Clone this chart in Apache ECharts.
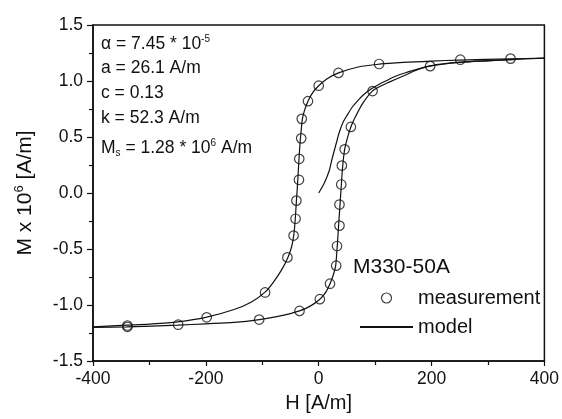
<!DOCTYPE html>
<html>
<head>
<meta charset="utf-8">
<script src="https://cdn.jsdelivr.net/npm/echarts@6/dist/echarts.min.js"></script>
<style>
  html, body { margin: 0; padding: 0; background: #fff; }
  #chart { width: 562px; height: 419px; }
</style>
</head>
<body>
<div id="chart"></div>
<script>
// measured points (H in A/m, M in 10^6 A/m)
var measH = [340, 251, 107, 35, 0, -19, -30, -31, -34.5, -35, -39.5, -41, -44.5, -55.5, -95, -198.5, -339,
             -339, -249, -105.5, -34, 2, 20, 31, 32.5, 36.8, 36.8, 40, 41, 46, 57, 95.5, 197.5]
var measM = [1.20, 1.19, 1.152, 1.072, 0.958, 0.82, 0.662, 0.488, 0.305, 0.118, -0.068, -0.23, -0.38, -0.575, -0.888, -1.11, -1.183,
             -1.195, -1.176, -1.13, -1.053, -0.948, -0.81, -0.649, -0.473, -0.291, -0.103, 0.076, 0.245, 0.39, 0.59, 0.91, 1.133]

// model: descending branch
var downH = [400, 340, 250, 200, 150, 107, 70, 35, 15, 0, -10, -19, -25, -29, -31, -33, -35, -37, -39.5, -41.5, -44, -48, -55, -65, -78, -95, -120, -150, -200, -250, -300, -340, -400]
var downM = [1.205, 1.198, 1.187, 1.178, 1.166, 1.15, 1.125, 1.072, 1.02, 0.958, 0.9, 0.82, 0.74, 0.66, 0.56, 0.45, 0.3, 0.12, -0.07, -0.23, -0.37, -0.48, -0.58, -0.68, -0.78, -0.885, -0.975, -1.04, -1.11, -1.15, -1.17, -1.18, -1.195]

// model: ascending branch
var upH = [-400, -340, -250, -200, -150, -105, -70, -34, -15, 2, 12, 20, 26, 30, 32.5, 34.5, 36.5, 38.5, 40.5, 42.5, 46, 52, 57, 65, 78, 95, 110, 125, 150, 175, 197, 250, 300, 340, 400]
var upM = [-1.2, -1.195, -1.18, -1.168, -1.155, -1.13, -1.1, -1.053, -1.01, -0.948, -0.89, -0.81, -0.73, -0.65, -0.5, -0.35, -0.2, -0.05, 0.1, 0.24, 0.39, 0.51, 0.59, 0.68, 0.8, 0.91, 0.955, 0.99, 1.045, 1.1, 1.133, 1.165, 1.18, 1.19, 1.205]

// model: initial magnetization curve
var initH = [0, 10, 18.5, 23, 27.4, 32, 36.2, 43, 51, 60, 68.6, 80, 92, 105, 118.6, 135, 154, 200, 250, 300, 350]
var initM = [0, 0.09, 0.196, 0.29, 0.375, 0.46, 0.538, 0.63, 0.7, 0.77, 0.821, 0.88, 0.926, 0.965, 1.0, 1.04, 1.074, 1.138, 1.168, 1.182, 1.192]

var xTicks = { min: -400, max: 400, interval: 200 }
var yTicks = { min: -1.5, max: 1.5, interval: 0.5 }

function pairs(xs, ys) {
  return xs.map(function (x, i) { return [x, ys[i]] })
}

var font = '"Liberation Sans", Arial, Helvetica, sans-serif'
var chart = echarts.init(document.getElementById('chart'))

var lineSeries = function (xs, ys) {
  return {
    name: 'model',
    type: 'line',
    data: pairs(xs, ys),
    symbol: 'none',
    smooth: 0.3,
    itemStyle: { color: '#111' },
    lineStyle: { color: '#111', width: 1.2 },
    z: 2
  }
}

var annoRich = {
  n: { fontSize: 17.5, fontFamily: font, color: '#111', lineHeight: 20 },
  sup: { fontSize: 10, fontFamily: font, color: '#111', lineHeight: 10, verticalAlign: 'top' },
  sub: { fontSize: 10, fontFamily: font, color: '#111', lineHeight: 6, verticalAlign: 'bottom' }
}

function anno(y, text) {
  return {
    type: 'text', left: 101, top: y,
    style: { text: text, rich: annoRich, fill: '#111' }
  }
}

chart.setOption({
  backgroundColor: '#fff',
  animation: false,
  grid: { left: 93, right: 16, top: 25, bottom: 58, show: true, borderColor: '#111', borderWidth: 1.5 },
  xAxis: {
    type: 'value',
    min: xTicks.min, max: xTicks.max, interval: xTicks.interval,
    name: 'H [A/m]',
    nameLocation: 'middle',
    nameGap: 32,
    nameTextStyle: { fontSize: 20, fontFamily: font, color: '#111' },
    axisLine: { onZero: false, lineStyle: { color: '#111', width: 1.5 } },
    axisTick: { length: 5, lineStyle: { color: '#111', width: 1.2 } },
    minorTick: { show: true, splitNumber: 2, length: 4, lineStyle: { color: '#111', width: 1.2 } },
    splitLine: { show: false },
    axisLabel: { fontSize: 17.5, fontFamily: font, color: '#111', margin: 9 }
  },
  yAxis: {
    type: 'value',
    min: yTicks.min, max: yTicks.max, interval: yTicks.interval,
    name: '{n|M x 10}{s|6}{n| [A/m]}',
    nameLocation: 'middle',
    nameRotate: 90,
    nameGap: 56,
    nameTextStyle: {
      fontSize: 21, fontFamily: font, color: '#111',
      rich: {
        n: { fontSize: 21, fontFamily: font, color: '#111', lineHeight: 24 },
        s: { fontSize: 13, fontFamily: font, color: '#111', lineHeight: 13, verticalAlign: 'top' }
      }
    },
    axisLine: { onZero: false, lineStyle: { color: '#111', width: 1.5 } },
    axisTick: { length: 6, lineStyle: { color: '#111', width: 1.2 } },
    minorTick: { show: true, splitNumber: 2, length: 4, lineStyle: { color: '#111', width: 1.2 } },
    splitLine: { show: false },
    axisLabel: {
      fontSize: 17.5, fontFamily: font, color: '#111', margin: 10,
      formatter: function (v) { return v.toFixed(1) }
    }
  },
  legend: {
    orient: 'vertical',
    left: 354,
    top: 283,
    itemWidth: 53,
    itemHeight: 10,
    itemGap: 9,
    textStyle: { fontSize: 20, fontFamily: font, color: '#111' },
    data: [
      { name: 'measurement', icon: 'circle', itemStyle: { color: '#fff', borderColor: '#111', borderWidth: 1.2 } },
      { name: 'model', itemStyle: { opacity: 0 } }
    ]
  },
  graphic: [
    { type: 'text', left: 353, top: 257, style: { text: 'M330-50A', fontSize: 21, fontFamily: font, fill: '#111' } },
    anno(34, '{n|α = 7.45 * 10}{sup|-5}'),
    anno(59, '{n|a = 26.1 A/m}'),
    anno(84, '{n|c = 0.13}'),
    anno(109, '{n|k = 52.3 A/m}'),
    anno(138, '{n|M}{sub|s}{n| = 1.28 * 10}{sup|6}{n| A/m}')
  ],
  series: [
    lineSeries(downH, downM),
    lineSeries(upH, upM),
    lineSeries(initH, initM),
    {
      name: 'measurement',
      type: 'scatter',
      data: pairs(measH, measM),
      symbol: 'circle',
      symbolSize: 9.5,
      itemStyle: { color: 'rgba(255,255,255,0)', borderColor: '#111', borderWidth: 1.2 },
      z: 3
    }
  ]
})
</script>
</body>
</html>
